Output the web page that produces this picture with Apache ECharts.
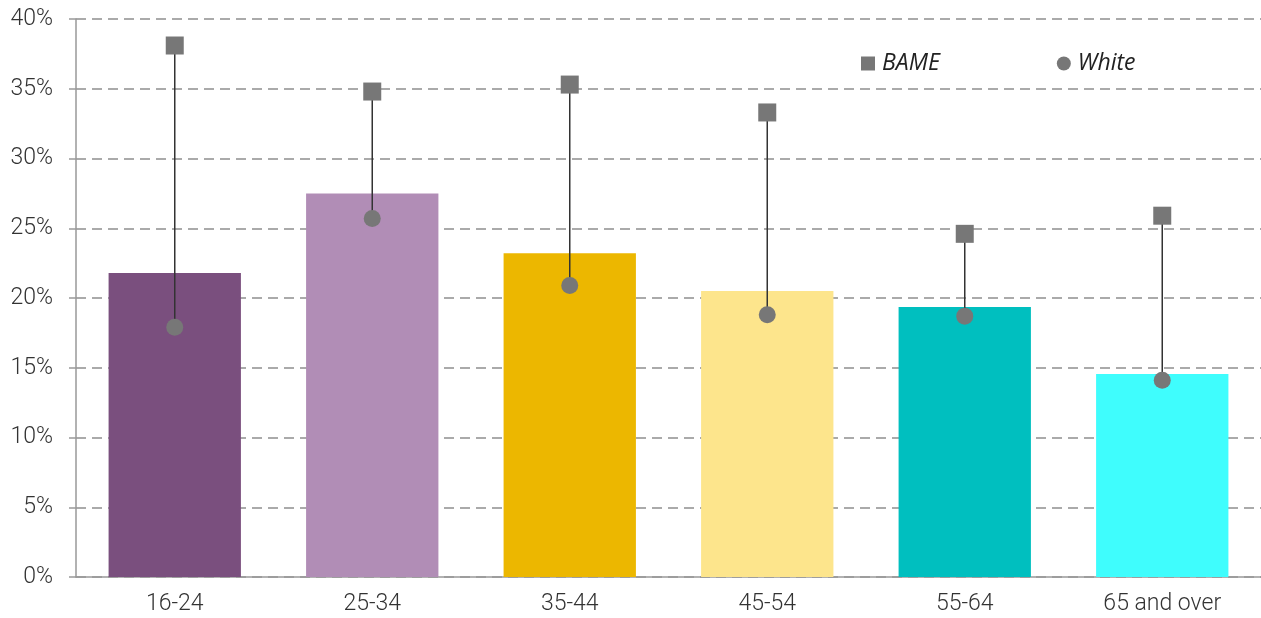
<!DOCTYPE html>
<html>
<head>
<meta charset="utf-8">
<script src="https://cdn.jsdelivr.net/npm/echarts@6/dist/echarts.min.js"></script>
<style>
  html, body { margin: 0; padding: 0; background: #fff; }
  #chart { width: 1261px; height: 618px; }
</style>
</head>
<body>
<div id="chart"></div>
<script>
// data
var categories = ['16-24', '25-34', '35-44', '45-54', '55-64', '65 and over'];
var allValues = [21.8, 27.5, 23.2, 20.5, 19.35, 14.55];
var bameValues = [38.1, 34.8, 35.3, 33.3, 24.6, 25.9];
var whiteValues = [17.9, 25.7, 20.9, 18.8, 18.7, 14.1];
var barColors = ['#7a4f7e', '#b18db6', '#ecb700', '#fde58c', '#00bfbf', '#3ffdfd'];

var chart = echarts.init(document.getElementById('chart'));

var option = {
    animation: false,
    grid: {
        left: 76,
        top: 19,
        width: 1192,
        bottom: 41,
        containLabel: false
    },
    legend: {
        left: 856,
        top: 47,
        itemGap: 117,
        itemWidth: 14,
        itemHeight: 14,
        textStyle: {
            fontFamily: 'Open Sans',
            fontStyle: 'italic',
            fontSize: 23,
            color: '#222',
            padding: [0, 0, 0, 2]
        },
        data: [
            {name: 'BAME', icon: 'rect'},
            {name: 'White', icon: 'circle'}
        ]
    },
    xAxis: {
        type: 'category',
        data: categories,
        axisLine: {lineStyle: {color: '#999', width: 1.5}},
        axisTick: {show: false},
        axisLabel: {
            fontFamily: 'Roboto',
            fontWeight: 300,
            fontSize: 23,
            color: '#333',
            margin: 16
        }
    },
    yAxis: {
        type: 'value',
        min: 0,
        max: 40,
        interval: 5,
        axisLine: {show: true, lineStyle: {color: '#999', width: 1.5}},
        axisTick: {show: true, length: 7, lineStyle: {color: '#999', width: 1.5}},
        axisLabel: {
            formatter: '{value}%',
            fontFamily: 'Roboto',
            fontWeight: 300,
            fontSize: 23,
            color: '#333',
            margin: 23
        },
        splitLine: {
            show: true,
            lineStyle: {color: '#aaa', width: 2, type: [10, 6]}
        }
    },
    series: [
        {
            name: 'All',
            type: 'bar',
            barWidth: '67%',
            data: allValues.map(function (v, i) {
                return {value: v, itemStyle: {color: barColors[i]}};
            }),
            z: 1
        },
        {
            // connector between BAME and White
            name: 'range',
            type: 'custom',
            data: bameValues.map(function (v, i) { return [i, v, whiteValues[i]]; }),
            renderItem: function (params, api) {
                var top = api.coord([api.value(0), api.value(1)]);
                var bottom = api.coord([api.value(0), api.value(2)]);
                return {
                    type: 'line',
                    shape: {x1: top[0], y1: top[1], x2: bottom[0], y2: bottom[1]},
                    style: {stroke: '#333', lineWidth: 1.5}
                };
            },
            z: 2
        },
        {
            name: 'BAME',
            type: 'scatter',
            symbol: 'rect',
            symbolSize: 18,
            itemStyle: {color: '#777', opacity: 1},
            data: bameValues,
            z: 3
        },
        {
            name: 'White',
            type: 'scatter',
            symbol: 'circle',
            symbolSize: 17,
            itemStyle: {color: '#777', opacity: 1},
            data: whiteValues,
            z: 3
        }
    ]
};

chart.setOption(option);
</script>
</body>
</html>
